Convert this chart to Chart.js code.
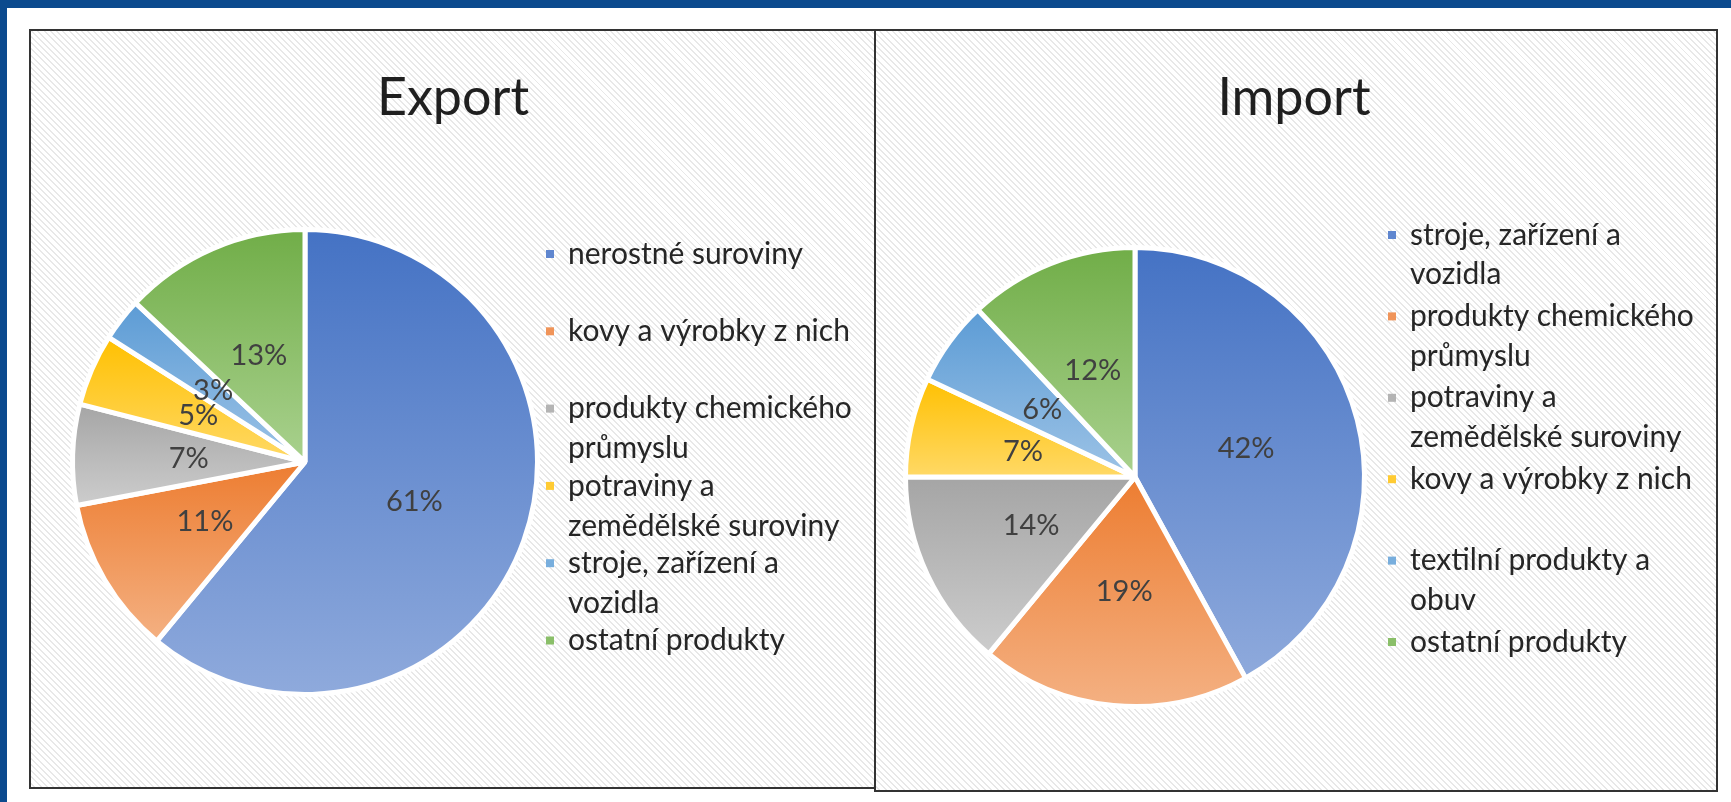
<!DOCTYPE html>
<html>
<head>
<meta charset="utf-8">
<script src="https://cdn.jsdelivr.net/npm/chart.js@4/dist/chart.umd.min.js"></script>
<style>
  html, body { margin: 0; padding: 0; background: #fff; }
  body { width: 1731px; height: 802px; position: relative; overflow: hidden; }
  .bar-top { position: absolute; left: 0; top: 0; width: 1731px; height: 8px; background: #0b4a8e; }
  .bar-left { position: absolute; left: 0; top: 0; width: 7px; height: 802px; background: #0b4a8e; }
  .panel {
    position: absolute; box-sizing: border-box; border: 2px solid #333;
    background: repeating-linear-gradient(45deg, #fff 0 2px, #e8e8e8 2px 3.4px, #fff 3.4px 4.4px);
  }
  #exportPanel { left: 29px; top: 29px; width: 847px; height: 760px; }
  #importPanel { left: 874px; top: 29px; width: 844px; height: 763px; }
  canvas { position: absolute; left: 0; top: 0; }
</style>
</head>
<body>
<div class="bar-top"></div>
<div class="bar-left"></div>
<div class="panel" id="exportPanel"><canvas id="exportChart" width="843" height="756"></canvas></div>
<div class="panel" id="importPanel"><canvas id="importChart" width="840" height="759"></canvas></div>

<script>
// data (shares in %)
const exportLabels = [
    'nerostné suroviny',
    'kovy a výrobky z nich',
    ['produkty chemického', 'průmyslu'],
    ['potraviny a', 'zemědělské suroviny'],
    ['stroje, zařízení a', 'vozidla'],
    'ostatní produkty'
];
const exportValues = [61, 11, 7, 5, 3, 13];

const importLabels = [
    ['stroje, zařízení a', 'vozidla'],
    ['produkty chemického', 'průmyslu'],
    ['potraviny a', 'zemědělské suroviny'],
    'kovy a výrobky z nich',
    ['textilní produkty a', 'obuv'],
    'ostatní produkty'
];
const importValues = [42, 19, 14, 7, 6, 12];

// office palette, each slice fades from top colour to bottom colour
const topColors = ['#4472c4', '#ed7d31', '#a5a5a5', '#ffc000', '#5b9bd5', '#70ad47'];
const bottomColors = ['#8faadc', '#f4b183', '#cdcdcd', '#ffd966', '#9dc3e6', '#a9d18e'];
const markerColors = ['#5f86cf', '#f09459', '#b4b4b4', '#ffcb33', '#78aedd', '#8abf69'];

const FONT = 'Lato, "Noto Sans", sans-serif';

const sliceGradient = (ctx) => {
    const chart = ctx.chart;
    const area = chart.chartArea;
    const i = ctx.dataIndex;
    if (!area) return topColors[i];
    const data = ctx.dataset.data;
    const total = data.reduce((s, v) => s + v, 0);
    let before = 0;
    for (let k = 0; k < i; k++) before += data[k];
    const a0 = -Math.PI / 2 + 2 * Math.PI * before / total;
    const a1 = a0 + 2 * Math.PI * data[i] / total;
    const cy = (area.top + area.bottom) / 2;
    const r = Math.min(area.width, area.height) / 2;
    const ys = [cy, cy + r * Math.sin(a0), cy + r * Math.sin(a1)];
    if (a0 < Math.PI / 2 && a1 > Math.PI / 2) ys.push(cy + r);
    const g = chart.ctx.createLinearGradient(0, Math.min(...ys), 0, Math.max(...ys));
    g.addColorStop(0, topColors[i]);
    g.addColorStop(1, bottomColors[i]);
    return g;
};

// title, percentage labels and the wrapped legend
const decorPlugin = {
    id: 'decor',
    afterDatasetsDraw(chart, args, opts) {
        const ctx = chart.ctx;
        ctx.save();

        ctx.fillStyle = '#1f1f1f';
        ctx.font = '52px ' + FONT;
        ctx.textAlign = 'center';
        ctx.textBaseline = 'alphabetic';
        ctx.fillText(opts.title, opts.titleX, opts.titleY);

        const meta = chart.getDatasetMeta(0);
        const values = chart.data.datasets[0].data;
        ctx.fillStyle = '#404040';
        ctx.font = '29px ' + FONT;
        ctx.textBaseline = 'middle';
        meta.data.forEach((arc, i) => {
            const p = arc.tooltipPosition();
            ctx.fillText(values[i] + '%', p.x, p.y);
        });

        ctx.textAlign = 'left';
        ctx.font = '30px ' + FONT;
        chart.data.labels.forEach((label, i) => {
            const lines = Array.isArray(label) ? label : [label];
            const y = opts.legendY + i * opts.legendStep;
            ctx.fillStyle = markerColors[i];
            ctx.fillRect(opts.legendX - 22, y - 4, 8, 8);
            ctx.fillStyle = '#262626';
            lines.forEach((line, j) => ctx.fillText(line, opts.legendX, y + j * opts.lineHeight));
        });
        ctx.restore();
    }
};

const makePie = (id, labels, values, padding, decor) => new Chart(document.getElementById(id), {
    type: 'pie',
    data: {
        labels: labels,
        datasets: [{
            data: values,
            backgroundColor: sliceGradient,
            borderColor: '#ffffff',
            borderWidth: 5
        }]
    },
    options: {
        responsive: false,
        animation: false,
        events: [],
        layout: { padding: padding },
        plugins: {
            legend: { display: false },
            tooltip: { enabled: false },
            decor: decor
        }
    },
    plugins: [decorPlugin]
});

makePie('exportChart', exportLabels, exportValues,
    { left: 39, top: 196, right: 334, bottom: 90 },
    { title: 'Export', titleX: 422, titleY: 84, legendX: 537, legendY: 223, legendStep: 77.3, lineHeight: 40 });

makePie('importChart', importLabels, importValues,
    { left: 27, top: 214, right: 349, bottom: 81 },
    { title: 'Import', titleX: 418, titleY: 84, legendX: 534, legendY: 204, legendStep: 81.4, lineHeight: 39.5 });
</script>
</body>
</html>
